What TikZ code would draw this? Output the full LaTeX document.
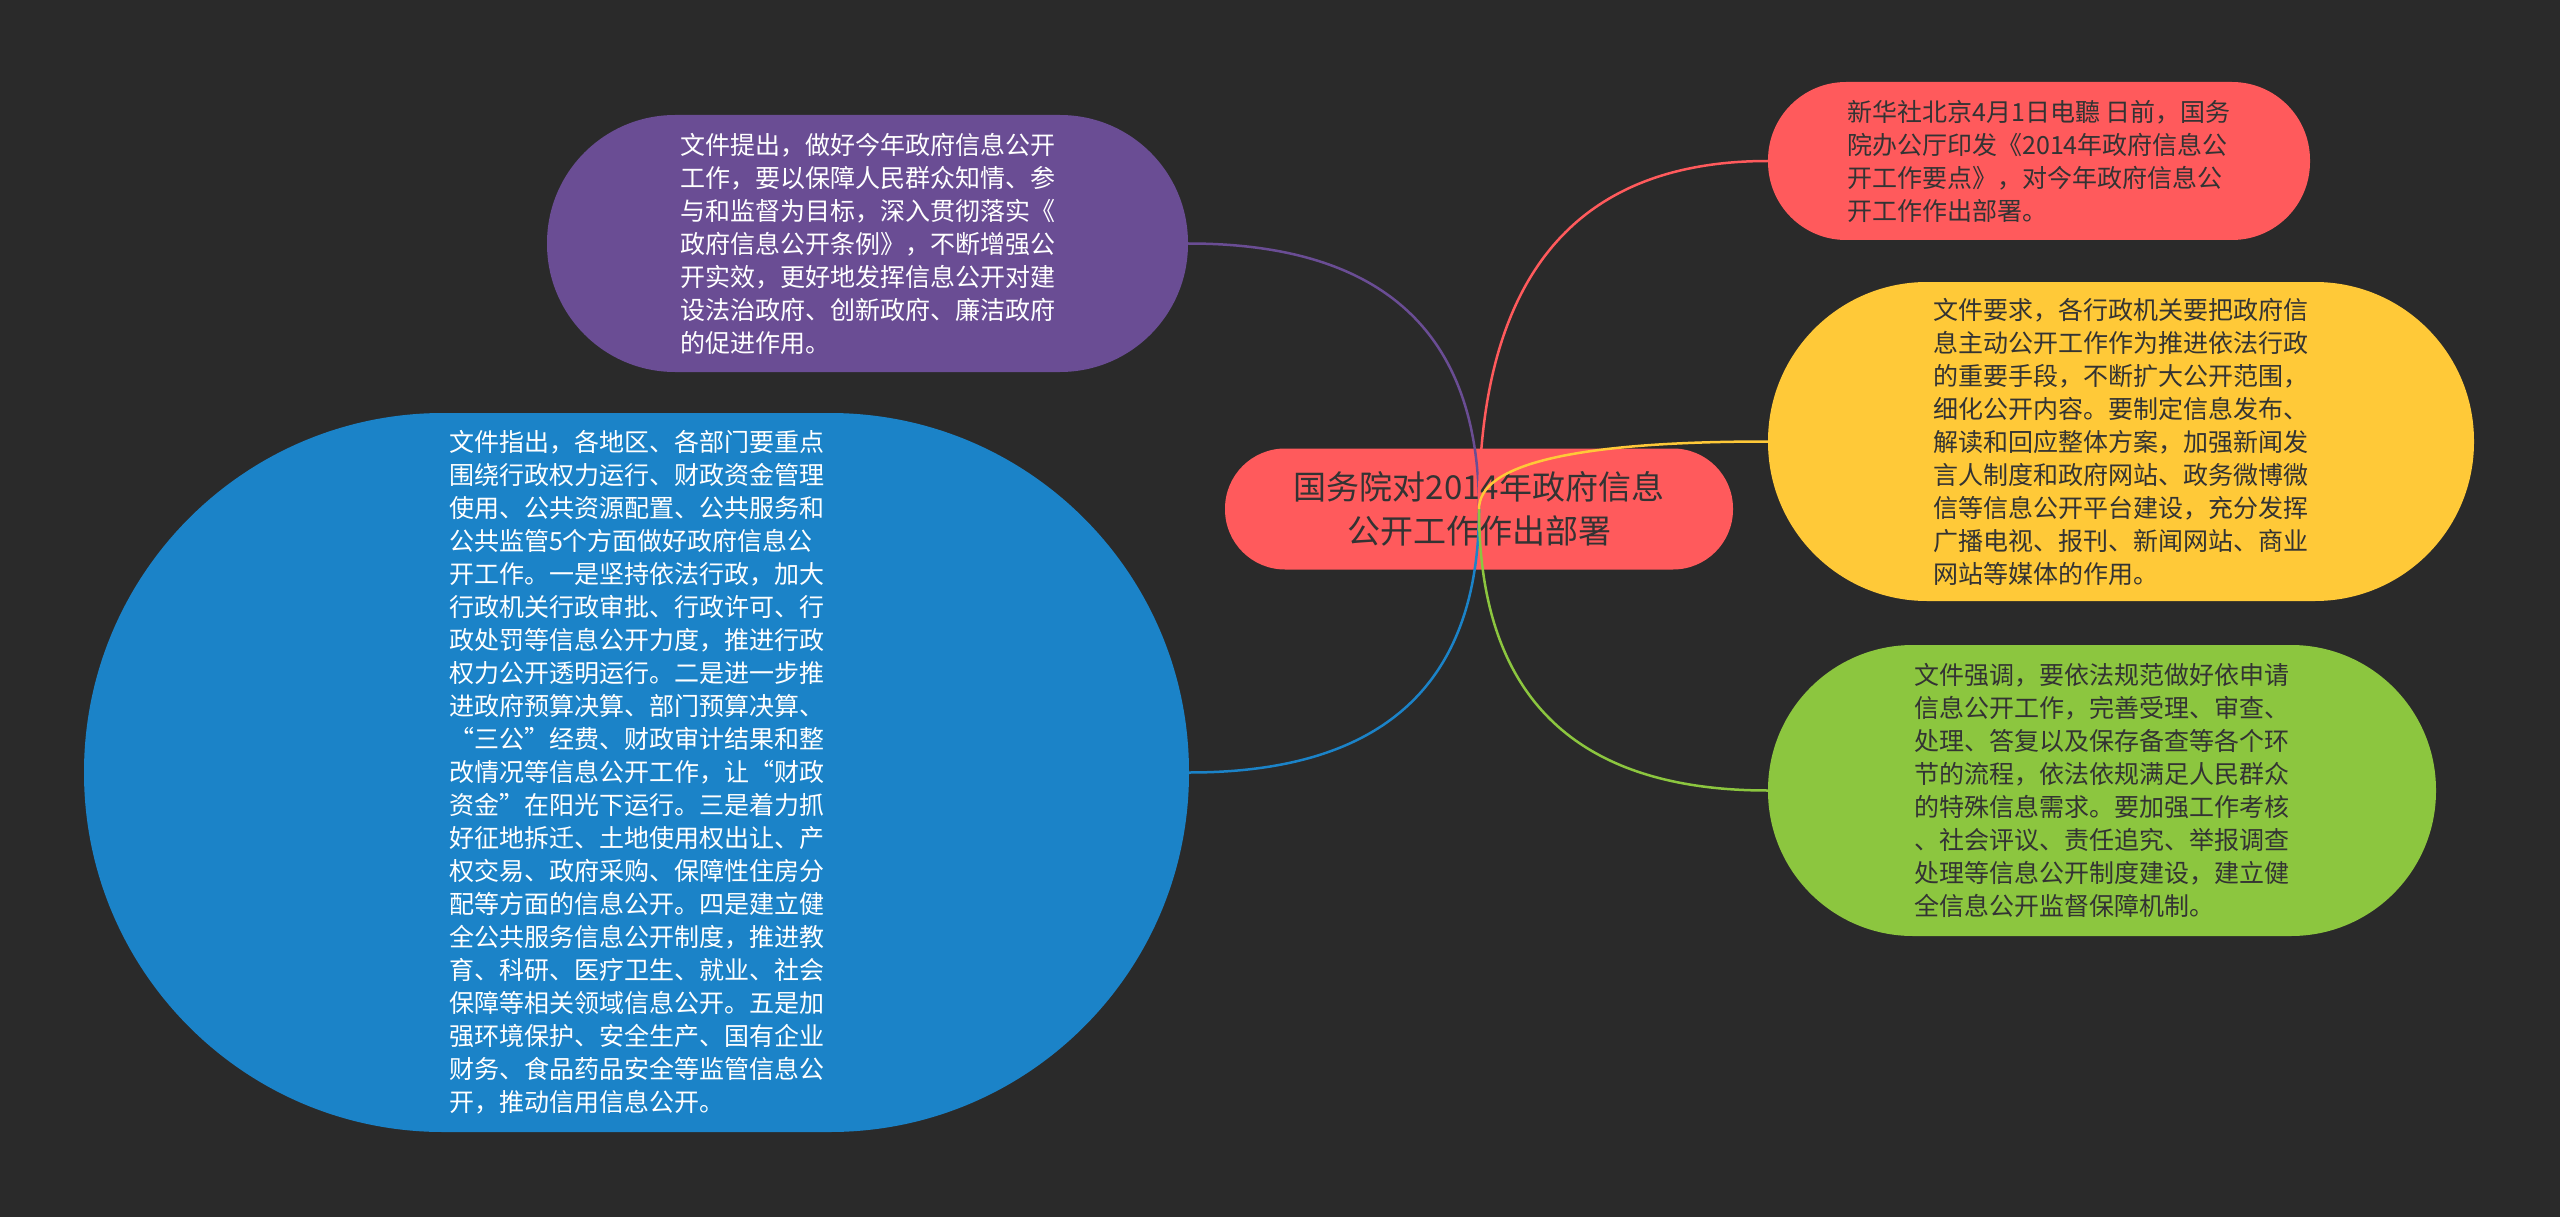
\documentclass[tikz,border=0pt]{standalone}
\usepackage{fontspec}
\setmainfont{Noto Sans CJK SC}
\usetikzlibrary{calc}
\definecolor{bgc}{HTML}{2A2A2A}
\definecolor{cpur}{HTML}{6A4D94}
\definecolor{cred}{HTML}{FF5A5C}
\definecolor{cyel}{HTML}{FFC938}
\definecolor{cgrn}{HTML}{8CC63F}
\definecolor{cblu}{HTML}{1B83C8}
\definecolor{dtxt}{HTML}{333333}
\begin{document}
\begin{tikzpicture}[x=1pt,y=-1pt,
  topic/.style={shape=rectangle, inner sep=0pt, align=left,
    font=\fontsize{25}{33}\selectfont},
  lnk/.style={line width=2.5pt}]
\fill[bgc] (0,0) rectangle (2560,1217);
\useasboundingbox (0,0) rectangle (2560,1217);

% central
\node[shape=rectangle, inner sep=0pt, align=center, fill=cred, text=dtxt,
  rounded corners=60pt, minimum width=508pt, minimum height=121pt,
  font=\fontsize{33}{44}\selectfont] (nC) at (1479,509)
  {国务院对2014年政府信息\\公开工作作出部署};

% purple
\node[topic, fill=cpur, text=white, rounded corners=128pt,
  minimum width=641pt, minimum height=257pt] (nP) at (867.5,243.5)
  {文件提出，做好今年政府信息公开\\
工作，要以保障人民群众知情、参\\
与和监督为目标，深入贯彻落实《\\
政府信息公开条例》，不断增强公\\
开实效，更好地发挥信息公开对建\\
设法治政府、创新政府、廉洁政府\\
的促进作用。};

% red
\node[topic, fill=cred, text=dtxt, rounded corners=78pt,
  minimum width=542pt, minimum height=158pt] (nR) at (2039,161)
  {新华社北京4月1日电聽 日前，国务\\
院办公厅印发《2014年政府信息公\\
开工作要点》，对今年政府信息公\\
开工作作出部署。};

% yellow
\node[topic, fill=cyel, text=dtxt, rounded corners=159pt,
  minimum width=706pt, minimum height=319pt] (nY) at (2121,441.5)
  {文件要求，各行政机关要把政府信\\
息主动公开工作作为推进依法行政\\
的重要手段，不断扩大公开范围，\\
细化公开内容。要制定信息发布、\\
解读和回应整体方案，加强新闻发\\
言人制度和政府网站、政务微博微\\
信等信息公开平台建设，充分发挥\\
广播电视、报刊、新闻网站、商业\\
网站等媒体的作用。};

% green
\node[topic, fill=cgrn, text=dtxt, rounded corners=145pt,
  minimum width=668pt, minimum height=291pt] (nG) at (2102,790.5)
  {文件强调，要依法规范做好依申请\\
信息公开工作，完善受理、审查、\\
处理、答复以及保存备查等各个环\\
节的流程，依法依规满足人民群众\\
的特殊信息需求。要加强工作考核\\
、社会评议、责任追究、举报调查\\
处理等信息公开制度建设，建立健\\
全信息公开监督保障机制。};

% blue
\node[topic, fill=cblu, text=white, rounded corners=359pt,
  minimum width=1105pt, minimum height=719pt] (nB) at (636.5,772.5)
  {文件指出，各地区、各部门要重点\\
围绕行政权力运行、财政资金管理\\
使用、公共资源配置、公共服务和\\
公共监管5个方面做好政府信息公\\
开工作。一是坚持依法行政，加大\\
行政机关行政审批、行政许可、行\\
政处罚等信息公开力度，推进行政\\
权力公开透明运行。二是进一步推\\
进政府预算决算、部门预算决算、\\
“三公”经费、财政审计结果和整\\
改情况等信息公开工作，让“财政\\
资金”在阳光下运行。三是着力抓\\
好征地拆迁、土地使用权出让、产\\
权交易、政府采购、保障性住房分\\
配等方面的信息公开。四是建立健\\
全公共服务信息公开制度，推进教\\
育、科研、医疗卫生、就业、社会\\
保障等相关领域信息公开。五是加\\
强环境保护、安全生产、国有企业\\
财务、食品药品安全等监管信息公\\
开，推动信用信息公开。};

% corner helpers
\coordinate (kP) at (nC.center |- nP.east);
\coordinate (kR) at (nC.center |- nR.west);
\coordinate (kY) at (nC.center |- nY.west);
\coordinate (kG) at (nC.center |- nG.west);
\coordinate (kB) at (nC.center |- nB.east);

\draw[lnk, cpur] (nC.center) .. controls ($(nC.center)!0.667!(kP)$) and ($(nP.east)!0.667!(kP)$) .. (nP.east);
\draw[lnk, cred] (nC.center) .. controls ($(nC.center)!0.667!(kR)$) and ($(nR.west)!0.667!(kR)$) .. (nR.west);
\draw[lnk, cblu] (nC.center) .. controls ($(nC.center)!0.667!(kB)$) and ($(nB.east)!0.667!(kB)$) .. (nB.east);
\draw[lnk, cgrn] (nC.center) .. controls ($(nC.center)!0.667!(kG)$) and ($(nG.west)!0.667!(kG)$) .. (nG.west);
\draw[lnk, cyel] (nC.center) .. controls ($(nC.center)!0.667!(kY)$) and ($(nY.west)!0.667!(kY)$) .. (nY.west);
\end{tikzpicture}
\end{document}
